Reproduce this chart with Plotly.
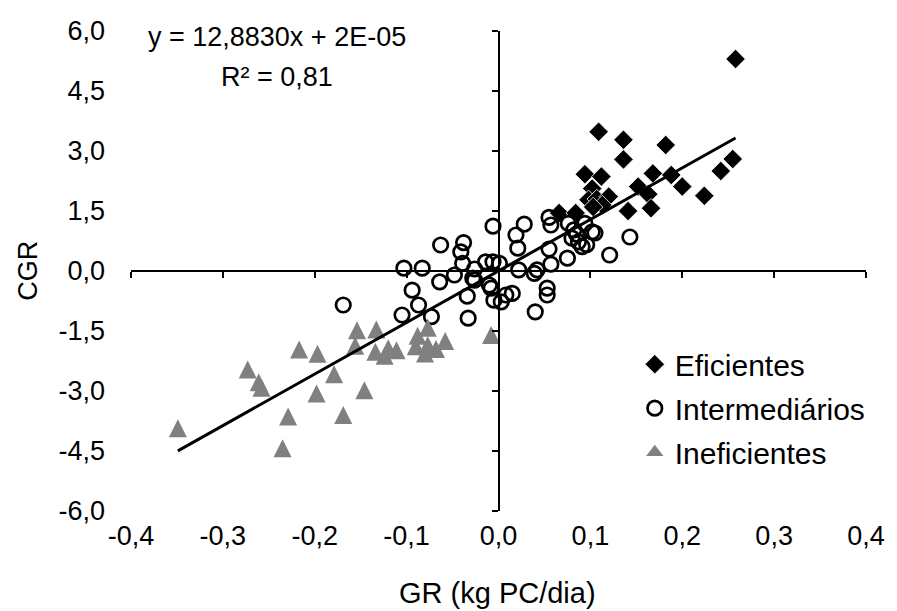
import plotly.graph_objects as go

# ---- data ----
eficientes_x = [0.258, 0.109, 0.136, 0.136, 0.182, 0.094, 0.112, 0.168, 0.188, 0.200,
                0.224, 0.255, 0.242, 0.152, 0.163, 0.166, 0.141, 0.102, 0.098, 0.107,
                0.120, 0.113, 0.066, 0.084, 0.103]
eficientes_y = [5.30, 3.48, 3.28, 2.79, 3.15, 2.42, 2.36, 2.44, 2.40, 2.11,
                1.88, 2.80, 2.50, 2.11, 1.92, 1.57, 1.50, 2.06, 1.78, 1.80,
                1.86, 1.65, 1.45, 1.45, 1.60]

intermed_x = [-0.169, -0.105, -0.103, -0.094, -0.087, -0.083, -0.073, -0.064, -0.063, -0.048,
              -0.041, -0.038, -0.039, -0.034, -0.033, -0.028, -0.026, -0.026, -0.014, -0.006,
              0.001, -0.006, -0.010, -0.008, -0.005, 0.003, 0.008, 0.015, 0.019, 0.021,
              0.022, 0.028, 0.039, 0.042, 0.040, 0.053, 0.053, 0.055, 0.057, 0.055,
              0.057, 0.075, 0.076, 0.080, 0.082, 0.085, 0.087, 0.091, 0.096, 0.102,
              0.105, 0.094, 0.121, 0.143]
intermed_y = [-0.85, -1.10, 0.07, -0.48, -0.85, 0.07, -1.14, -0.27, 0.65, -0.10,
              0.48, 0.71, 0.19, -0.63, -1.18, -0.18, 0.05, -0.23, 0.23, 0.23,
              0.19, 1.12, -0.35, -0.43, -0.73, -0.77, -0.60, -0.56, 0.90, 0.57,
              0.03, 1.17, -0.06, 0.03, -1.02, -0.43, -0.60, 1.34, 1.15, 0.55,
              0.17, 0.32, 1.19, 0.82, 1.03, 0.92, 0.73, 0.61, 0.66, 0.98,
              0.95, 1.19, 0.40, 0.85]

inef_x = [-0.349, -0.273, -0.261, -0.258, -0.217, -0.197, -0.229, -0.235, -0.198, -0.179,
          -0.169, -0.146, -0.154, -0.156, -0.133, -0.134, -0.124, -0.120, -0.111, -0.088,
          -0.077, -0.090, -0.077, -0.068, -0.058, -0.080, -0.008]
inef_y = [-3.93, -2.46, -2.78, -2.92, -1.96, -2.07, -3.64, -4.43, -3.06, -2.58,
          -3.60, -2.98, -1.48, -1.87, -1.46, -2.02, -2.12, -1.93, -1.98, -1.62,
          -1.42, -1.88, -1.85, -1.95, -1.75, -2.06, -1.60]

series_names = ["Eficientes", "Intermediários", "Ineficientes"]

slope = 12.8830
intercept = 2e-05
eq_text = "y = 12,8830x + 2E-05"
r2_text = "R² = 0,81"

x_tick_vals = [-0.4, -0.3, -0.2, -0.1, 0.0, 0.1, 0.2, 0.3, 0.4]
x_tick_text = ["-0,4", "-0,3", "-0,2", "-0,1", "0,0", "0,1", "0,2", "0,3", "0,4"]
y_tick_vals = [-6.0, -4.5, -3.0, -1.5, 0.0, 1.5, 3.0, 4.5, 6.0]
y_tick_text = ["-6,0", "-4,5", "-3,0", "-1,5", "0,0", "1,5", "3,0", "4,5", "6,0"]
x_title = "GR (kg PC/dia)"
y_title = "CGR"

# ---- trendline from the fitted equation ----
all_x = eficientes_x + intermed_x + inef_x
line_x = [min(all_x), max(all_x)]
line_y = [slope * v + intercept for v in line_x]

FONT = "Liberation Sans, Arial, sans-serif"
FS = 27
GRAY = "#808080"

fig = go.Figure()
fig.add_trace(go.Scatter(
    x=eficientes_x, y=eficientes_y, mode="markers", name=series_names[0],
    legendgroup="a",
    marker=dict(symbol="diamond", size=15, color="black",
                line=dict(color="white", width=0.8)),
))
fig.add_trace(go.Scatter(
    x=intermed_x, y=intermed_y, mode="markers", name=series_names[1],
    legendgroup="b",
    marker=dict(symbol="circle-open", size=14.5, color="black",
                line=dict(color="black", width=2.7)),
))
# plotted triangles (equilateral-looking, centred on the point)
fig.add_trace(go.Scatter(
    x=inef_x, y=inef_y, mode="markers", name=series_names[2],
    legendgroup="c", showlegend=False,
    marker=dict(symbol="arrow-down", angle=180, standoff=9, size=18, color=GRAY,
                line=dict(width=0)),
))
# legend entry for the triangles
fig.add_trace(go.Scatter(
    x=[None], y=[None], mode="markers", name=series_names[2],
    legendgroup="c", showlegend=True, hoverinfo="skip",
    marker=dict(symbol="triangle-up", size=15, color=GRAY, line=dict(width=0)),
))
fig.add_trace(go.Scatter(
    x=line_x, y=line_y, mode="lines", showlegend=False, hoverinfo="skip",
    line=dict(color="black", width=3), xaxis="x2", yaxis="y2",
))

fig.update_layout(
    width=897, height=611,
    margin=dict(l=131, r=26, t=31, b=100),
    paper_bgcolor="white", plot_bgcolor="white",
    font=dict(family=FONT, size=FS, color="black"),
    showlegend=True,
    legend=dict(x=0.6854, y=0.36, xanchor="left", yanchor="top",
                bgcolor="rgba(0,0,0,0)", font=dict(size=30, family=FONT),
                itemclick=False, traceorder="grouped", tracegroupgap=2),
    xaxis=dict(range=[-0.4, 0.4], tickvals=x_tick_vals, ticktext=x_tick_text,
               showline=False, showgrid=False, zeroline=False, ticks="",
               ticklabelstandoff=6, fixedrange=True),
    yaxis=dict(range=[-6, 6], tickvals=y_tick_vals, ticktext=y_tick_text,
               showline=False, showgrid=False, zeroline=False, ticks="",
               ticklabelstandoff=25, fixedrange=True),
    xaxis2=dict(range=[-0.4, 0.4], overlaying="x", anchor="free", position=0.5,
                tickvals=x_tick_vals, showticklabels=False, showline=True,
                linecolor="black", linewidth=1.5, ticks="outside", ticklen=6,
                tickwidth=1.5, tickcolor="black", showgrid=False, zeroline=False,
                fixedrange=True),
    yaxis2=dict(range=[-6, 6], overlaying="y", anchor="free", position=0.5,
                tickvals=y_tick_vals, showticklabels=False, showline=True,
                linecolor="black", linewidth=1.5, ticks="outside", ticklen=6,
                tickwidth=1.5, tickcolor="black", showgrid=False, zeroline=False,
                fixedrange=True),
    annotations=[
        dict(text=eq_text, xref="paper", yref="paper", x=0.199, y=0.9875,
             xanchor="center", yanchor="middle", showarrow=False,
             font=dict(size=FS, family=FONT)),
        dict(text=r2_text, xref="paper", yref="paper", x=0.199, y=0.904,
             xanchor="center", yanchor="middle", showarrow=False,
             font=dict(size=FS, family=FONT)),
        dict(text=y_title, xref="paper", yref="paper", x=-0.1405, y=0.5,
             xanchor="center", yanchor="middle", textangle=-90, showarrow=False,
             font=dict(size=FS, family=FONT)),
        dict(text=x_title, xref="paper", yref="paper", x=0.4986, y=-0.171,
             xanchor="center", yanchor="middle", showarrow=False,
             font=dict(size=29, family=FONT)),
    ],
)

fig.write_html("out.html", config={"displayModeBar": False},
               post_script="document.body.style.margin='0';")
